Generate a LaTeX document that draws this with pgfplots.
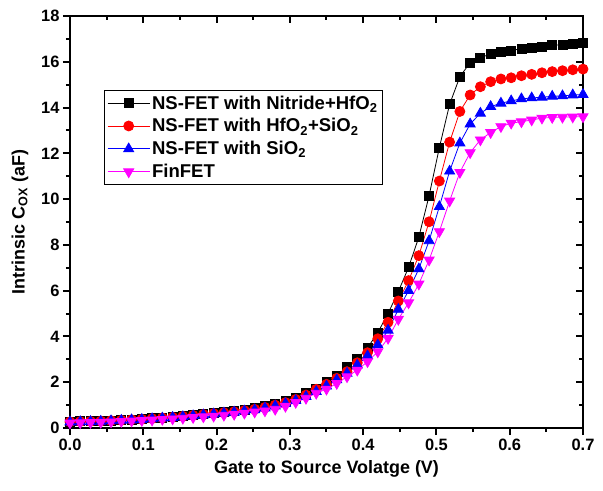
\documentclass[border=0pt]{standalone}
\usepackage{fontspec}
\setmainfont{Liberation Sans}
\usepackage{pgfplots}
\usepackage{pgfplotstable}
\pgfplotsset{compat=1.18}

% Intrinsic oxide capacitance (aF) against gate-to-source voltage (V)
\pgfplotstableread{
x      nit    hfsi   sio    fin
0.000  0.28   0.27   0.26   0.22
0.014  0.29   0.28   0.27   0.23
0.028  0.30   0.29   0.28   0.24
0.042  0.32   0.30   0.29   0.25
0.056  0.33   0.32   0.31   0.27
0.070  0.35   0.34   0.33   0.29
0.084  0.37   0.36   0.35   0.31
0.098  0.40   0.38   0.37   0.33
0.112  0.43   0.41   0.40   0.35
0.126  0.46   0.44   0.43   0.38
0.140  0.50   0.47   0.46   0.40
0.154  0.54   0.51   0.49   0.43
0.168  0.58   0.55   0.53   0.46
0.182  0.62   0.59   0.57   0.49
0.196  0.67   0.63   0.61   0.52
0.210  0.71   0.67   0.65   0.56
0.224  0.75   0.71   0.69   0.60
0.238  0.80   0.76   0.74   0.65
0.252  0.86   0.82   0.79   0.70
0.266  0.95   0.90   0.87   0.75
0.280  1.06   1.00   0.96   0.82
0.294  1.18   1.11   1.07   0.95
0.308  1.32   1.25   1.20   1.12
0.322  1.53   1.44   1.37   1.30
0.336  1.73   1.69   1.59   1.52
0.350  2.00   1.91   1.83   1.70
0.364  2.29   2.17   2.10   1.95
0.378  2.65   2.46   2.39   2.24
0.392  3.00   2.85   2.75   2.53
0.406  3.50   3.29   3.15   2.90
0.420  4.17   3.90   3.63   3.33
0.434  5.00   4.62   4.27   3.92
0.448  5.96   5.55   5.18   4.75
0.462  7.02   6.44   6.00   5.47
0.476  8.34   7.53   6.95   6.29
0.490  10.15  9.01   8.18   7.34
0.504  12.25  10.79  9.67   8.58
0.518  14.14  12.49  11.22  9.92
0.532  15.35  13.83  12.45  11.17
0.546  15.96  14.55  13.28  12.03
0.560  16.17  14.91  13.75  12.59
0.574  16.35  15.13  14.04  12.91
0.588  16.43  15.25  14.19  13.17
0.602  16.49  15.30  14.29  13.32
0.616  16.57  15.39  14.38  13.38
0.630  16.61  15.45  14.42  13.46
0.644  16.67  15.52  14.45  13.54
0.658  16.72  15.57  14.49  13.57
0.672  16.75  15.61  14.51  13.58
0.686  16.78  15.65  14.55  13.59
0.700  16.81  15.68  14.57  13.60
}\coxdata

\definecolor{cred}{RGB}{255,0,0}
\definecolor{cblue}{RGB}{0,0,255}
\definecolor{cmag}{RGB}{255,0,255}

\pgfplotsset{
  coxframe/.style={
    scale only axis, width=513bp, height=412bp,
    xmin=0, xmax=0.7, ymin=0, ymax=18,
    xtick={0,0.1,0.2,0.3,0.4,0.5,0.6,0.7},
    ytick={0,2,4,6,8,10,12,14,16,18},
    minor x tick num=1, minor y tick num=1,
    axis line style={line width=2.2bp},
    major tick length=7bp, minor tick length=4bp,
    major tick style={line width=2bp, black},
    minor tick style={line width=2bp, black},
  },
}

\begin{document}
\begin{tikzpicture}
\useasboundingbox (-70bp,-63bp) rectangle (533bp,428bp);
% frame ticks on top and right, pointing inwards
\begin{axis}[coxframe,
  tick align=inside, xtick pos=right, ytick pos=right,
  xticklabels={}, yticklabels={}]
\end{axis}
\begin{axis}[coxframe,
  tick align=outside, xtick pos=left, ytick pos=left,
  /pgf/number format/assume math mode=true,
  ticklabel style={font=\bfseries\fontsize{16.5}{18}\selectfont},
  x tick label style={/pgf/number format/.cd, fixed, fixed zerofill, precision=1},
  y tick label style={/pgf/number format/.cd, fixed, precision=0},
  label style={font=\bfseries\fontsize{18}{20}\selectfont},
  xlabel={Gate to Source Volatge (V)},
  ylabel={Intrinsic C\textsubscript{OX} (aF)},
  xlabel style={at={(axis description cs:0.5,-0.1)}, anchor=center},
  ylabel style={at={(axis description cs:-0.0975,0.5)}, anchor=center},
  legend style={at={(rel axis cs:0.066,0.82)}, anchor=north west,
    draw=black, line width=0.9bp, inner sep=3bp, row sep=4bp,
    font=\bfseries\fontsize{18.6}{21}\selectfont},
  legend cell align=left,
  legend image code/.code={%
    \draw[mark repeat=2, mark phase=2, #1]
      plot coordinates {(0bp,0bp) (21bp,0bp) (42bp,0bp)};},
  every axis plot/.append style={line width=0.8bp},
]
\addplot[black, mark=square*, mark size=4.5bp, mark options={solid, fill=black}]
  table[x=x, y=nit] {\coxdata};
\addlegendentry{NS-FET with Nitride+HfO\textsubscript{2}}
\addplot[cred, mark=*, mark size=5bp, mark options={solid, fill=cred}]
  table[x=x, y=hfsi] {\coxdata};
\addlegendentry{NS-FET with HfO\textsubscript{2}+SiO\textsubscript{2}}
\addplot[cblue, mark=triangle*, mark size=5.8bp, mark options={solid, fill=cblue}]
  table[x=x, y=sio] {\coxdata};
\addlegendentry{NS-FET with SiO\textsubscript{2}}
\addplot[cmag, mark=triangle*, mark size=5.8bp, mark options={solid, fill=cmag, rotate=180}]
  table[x=x, y=fin] {\coxdata};
\addlegendentry{FinFET}
\end{axis}
\end{tikzpicture}
\end{document}
